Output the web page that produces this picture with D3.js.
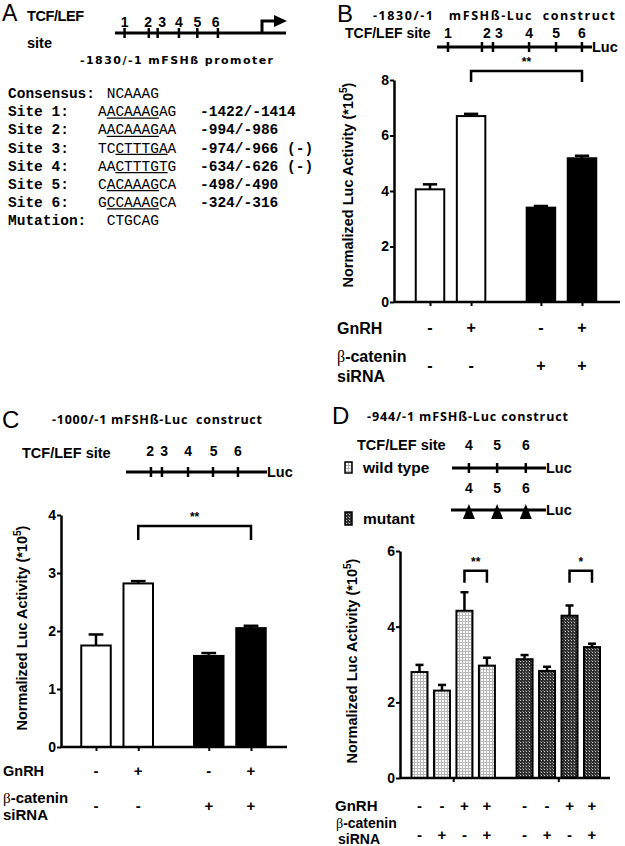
<!DOCTYPE html>
<html>
<head>
<meta charset="utf-8">
<title>mFSHb Luc constructs</title>
<script src="https://cdn.jsdelivr.net/npm/d3@7"></script>
<style>
  body { margin: 0; background: #fff; }
</style>
</head>
<body>
<script>

// ---- panel A : TCF/LEF sites in the promoter ----
var seqLabels = ["Consensus:", "Site 1:", "Site 2:", "Site 3:", "Site 4:", "Site 5:", "Site 6:", "Mutation:"];
var seqs = [" NCAAAG", "AACAAAGAG", "AACAAAGAA", "TCCTTTGAA", "AACTTTGTG", "CACAAAGCA", "GCCAAAGCA", " CTGCAG"];
var seqUnderline = [null, [1, 7], [1, 7], [2, 8], [2, 8], [1, 7], [1, 7], null];
var seqCoords = ["", "-1422/-1414", "-994/-986", "-974/-966 (-)", "-634/-626 (-)", "-498/-490", "-324/-316", ""];

// schematic site maps (fraction along the drawn promoter line), tick and number
var sitesA = ["1", "2", "3", "4", "5", "6"];
var mapA = [0.065, 0.23, 0.29, 0.435, 0.56, 0.70];
var numMapA = [0.065, 0.225, 0.32, 0.435, 0.56, 0.685];
var sitesB = ["1", "2", "3", "4", "5", "6"];
var mapB = [0.071, 0.29, 0.361, 0.594, 0.768, 0.935];
var numMapB = [0.071, 0.322, 0.40, 0.594, 0.768, 0.935];
var sitesC = ["2", "3", "4", "5", "6"];
var mapC = [0.177, 0.255, 0.44, 0.617, 0.794];
var numMapC = [0.172, 0.27, 0.44, 0.622, 0.794];
var sitesD = ["4", "5", "6"];
var mapD = [0.18, 0.48, 0.785];

// ---- panel B : -1830/-1 construct ----
var gnrhB = ["-", "+", "-", "+"];
var sirnaB = ["-", "-", "+", "+"];
var fillB = ["white", "white", "black", "black"];
var meanB = [4.06, 6.70, 3.40, 5.18];
var semB = [0.18, 0.08, 0.06, 0.09];
var sigB = [[1, 3, "**"]];

// ---- panel C : -1000/-1 construct ----
var gnrhC = ["-", "+", "-", "+"];
var sirnaC = ["-", "-", "+", "+"];
var fillC = ["white", "white", "black", "black"];
var meanC = [1.75, 2.82, 1.57, 2.05];
var semC = [0.19, 0.04, 0.05, 0.04];
var sigC = [[1, 3, "**"]];

// ---- panel D : -944/-1 construct, wild type vs mutant ----
var gnrhD = ["-", "-", "+", "+", "-", "-", "+", "+"];
var sirnaD = ["-", "+", "-", "+", "-", "+", "-", "+"];
var fillD = ["wt", "wt", "wt", "wt", "mut", "mut", "mut", "mut"];
var meanD = [2.80, 2.31, 4.42, 2.97, 3.14, 2.83, 4.29, 3.46];
var semD = [0.19, 0.15, 0.49, 0.21, 0.11, 0.11, 0.27, 0.09];
var sigD = [[2, 3, "**"], [6, 7, "*"]];

var W = 625, H = 846;
var svg = d3.select("body").append("svg").attr("width", W).attr("height", H)
    .attr("font-family", "'Liberation Sans', Arial, sans-serif");
svg.append("rect").attr("width", W).attr("height", H).attr("fill", "#fff");

// fill patterns for panel D
var defs = svg.append("defs");
var wt = defs.append("pattern").attr("id", "wt").attr("width", 3).attr("height", 3)
    .attr("patternUnits", "userSpaceOnUse");
wt.append("rect").attr("width", 3).attr("height", 3).attr("fill", "#fff");
wt.append("rect").attr("width", 3).attr("height", 1).attr("fill", "#b8b8b8");
wt.append("rect").attr("width", 1).attr("height", 3).attr("fill", "#b8b8b8");
var mt = defs.append("pattern").attr("id", "mut").attr("width", 3).attr("height", 3)
    .attr("patternUnits", "userSpaceOnUse");
mt.append("rect").attr("width", 3).attr("height", 3).attr("fill", "#2e2e2e");
mt.append("rect").attr("x", 1).attr("y", 1).attr("width", 1).attr("height", 1).attr("fill", "#d0d0d0");
mt.append("rect").attr("x", 0).attr("y", 0).attr("width", 1).attr("height", 1).attr("fill", "#777");

function fillOf(f) {
    if (f == "wt" || f == "mut") return "url(#" + f + ")";
    return f;
}

function label(x, y, txt, size, opts) {
    opts = opts || {};
    return svg.append("text")
        .attr("x", x).attr("y", y)
        .attr("dy", "0.35em")
        .attr("font-size", size)
        .attr("font-weight", opts.weight || "bold")
        .attr("font-family", opts.family || null)
        .attr("text-anchor", opts.anchor || "start")
        .style("white-space", "pre")
        .text(txt);
}

// site map: line with ticks and numbers
function siteMap(x0, x1, ly, nums, map, numMap, numY, opts) {
    var s = d3.scaleLinear().domain([0, 1]).range([x0, x1]);
    svg.append("line").attr("x1", x0).attr("x2", x1).attr("y1", ly).attr("y2", ly)
        .attr("stroke", "#000").attr("stroke-width", 3);
    svg.selectAll(null).data(map).enter().append("line")
        .attr("x1", function (d) { return s(d); })
        .attr("x2", function (d) { return s(d); })
        .attr("y1", ly - 5).attr("y2", ly + 5)
        .attr("stroke", "#000").attr("stroke-width", 2.5);
    if (numY != null) {
        svg.selectAll(null).data(nums).enter().append("text")
            .attr("x", function (d, i) { return s(numMap[i]); })
            .attr("y", numY).attr("dy", "0.35em")
            .attr("text-anchor", "middle")
            .attr("font-size", 14).attr("font-weight", "bold")
            .text(function (d) { return d; });
    }
    if (opts && opts.luc) label(x1, ly, "Luc", 14.5);
    return s;
}

// ===== Panel A =====
label(2, 13, "A", 23, { weight: "normal" });
label(27, 16, "TCF/LEF", 14.5).attr("letter-spacing", -0.4);
label(27, 43, "site", 14.5);
var sA = siteMap(115, 262, 33, sitesA, mapA, numMapA, 22);
// promoter arrow
svg.append("path")
    .attr("d", "M" + sA(1) + ",33V21H" + (sA(1) + 14))
    .attr("fill", "none").attr("stroke", "#000").attr("stroke-width", 3);
svg.append("path")
    .attr("d", "M" + (sA(1) + 12) + ",15L" + (sA(1) + 25) + ",21L" + (sA(1) + 12) + ",27Z")
    .attr("fill", "#000");
svg.append("line").attr("x1", sA(1)).attr("x2", 286).attr("y1", 33).attr("y2", 33)
    .attr("stroke", "#000").attr("stroke-width", 3);
label(80, 60, "-1830/-1 mFSHß promoter", 11, { family: "'DejaVu Sans', sans-serif" })
    .attr("textLength", 193).attr("lengthAdjust", "spacing");

var mono = "'Liberation Mono', 'Courier New', monospace";
var monoSize = 14.5, charW = monoSize * 0.6;
var rowY = d3.scalePoint().domain(seqLabels).range([93, 220]);
seqLabels.forEach(function (lab, i) {
    var yy = rowY(lab);
    label(8, yy, lab, monoSize, { family: mono });
    label(98, yy, seqs[i], monoSize, { family: mono, weight: "normal" });
    if (seqCoords[i]) label(200, yy, seqCoords[i], monoSize, { family: mono });
    if (seqUnderline[i]) {
        svg.append("line")
            .attr("x1", 98 + seqUnderline[i][0] * charW)
            .attr("x2", 98 + seqUnderline[i][1] * charW)
            .attr("y1", yy + 7).attr("y2", yy + 7)
            .attr("stroke", "#000").attr("stroke-width", 1.2);
    }
});

// ===== generic bar chart =====
function barChart(c) {
    var y = d3.scaleLinear().domain([0, c.ymax]).range([c.yBottom, c.yTop]);
    var slots = c.means.map(function (d, i) { return i + Math.floor(i / c.perGroup) * c.gap; });
    var x = d3.scaleLinear().domain([0, slots[slots.length - 1]]).range([c.xFirst, c.xLast]);
    var bw = c.barWidth;
    var g = svg.append("g");

    // bars
    g.selectAll("rect.bar").data(c.means).enter().append("rect")
        .attr("class", "bar")
        .attr("x", function (d, i) { return x(slots[i]) - bw / 2; })
        .attr("y", function (d) { return y(d); })
        .attr("width", bw)
        .attr("height", function (d) { return y(0) - y(d); })
        .attr("fill", function (d, i) { return fillOf(c.fills[i]); })
        .attr("stroke", "#000").attr("stroke-width", 2);

    // error bars (upper only)
    g.selectAll("line.err").data(c.means).enter().append("line")
        .attr("class", "err")
        .attr("x1", function (d, i) { return x(slots[i]); })
        .attr("x2", function (d, i) { return x(slots[i]); })
        .attr("y1", function (d) { return y(d); })
        .attr("y2", function (d, i) { return y(d + c.sems[i]); })
        .attr("stroke", "#000").attr("stroke-width", 2.5);
    g.selectAll("line.cap").data(c.means).enter().append("line")
        .attr("class", "cap")
        .attr("x1", function (d, i) { return x(slots[i]) - bw * 0.25; })
        .attr("x2", function (d, i) { return x(slots[i]) + bw * 0.25; })
        .attr("y1", function (d, i) { return y(d + c.sems[i]); })
        .attr("y2", function (d, i) { return y(d + c.sems[i]); })
        .attr("stroke", "#000").attr("stroke-width", 2.5);

    // y axis
    var ya = g.append("g").attr("transform", "translate(" + c.axisX + ",0)")
        .call(d3.axisLeft(y).tickValues(c.yTicks).tickSize(4).tickSizeOuter(0).tickPadding(1)
            .tickFormat(d3.format("d")));
    ya.select(".domain").attr("stroke-width", 2.5);
    ya.selectAll(".tick line").attr("stroke-width", 2);
    ya.selectAll(".tick text").attr("font-size", 14).attr("font-weight", "bold")
        .attr("font-family", "'Liberation Sans', Arial, sans-serif");

    // x axis
    g.append("line").attr("x1", c.axisX).attr("x2", c.axisEnd)
        .attr("y1", y(0)).attr("y2", y(0))
        .attr("stroke", "#000").attr("stroke-width", 2.5);
    var xa = g.append("g").attr("transform", "translate(0," + y(0) + ")")
        .call(d3.axisBottom(x).tickValues(c.xTicks).tickSize(4).tickSizeOuter(0).tickFormat(""));
    xa.select(".domain").remove();
    xa.selectAll(".tick line").attr("stroke-width", 2);

    // y label
    var yl = g.append("text")
        .attr("transform", "translate(" + c.labelX + "," + c.labelY + ") rotate(-90)")
        .attr("text-anchor", "middle")
        .attr("font-size", c.labelSize).attr("font-weight", "bold");
    yl.append("tspan").text("Normalized Luc Activity (*10");
    yl.append("tspan").attr("dy", -6).attr("font-size", c.labelSize * 0.7).text("5");
    yl.append("tspan").attr("dy", 6).text(")");

    // significance brackets
    c.sig.forEach(function (s) {
        var xl = x(slots[s[0]]), xr = x(slots[s[1]]);
        var yt = y(c.sigTop), yb = y(c.sigLeg);
        g.append("path")
            .attr("d", "M" + xl + "," + yb + "V" + yt + "H" + xr + "V" + yb)
            .attr("fill", "none").attr("stroke", "#000").attr("stroke-width", 2.5);
        g.append("text").attr("x", (xl + xr) / 2).attr("y", yt - 9).attr("dy", "0.35em")
            .attr("text-anchor", "middle").attr("font-size", 12).attr("font-weight", "bold")
            .text(s[2]);
    });

    // treatment rows
    c.rows.forEach(function (r) {
        g.selectAll(null).data(r.signs).enter().append("text")
            .attr("x", function (d, i) { return x(slots[i]); })
            .attr("y", r.y).attr("dy", "0.35em")
            .attr("text-anchor", "middle")
            .attr("font-size", c.rowSize).attr("font-weight", "bold")
            .text(function (d) { return d; });
    });
    return x;
}

var titleFont = "'Open Sans', 'Liberation Sans', sans-serif";

// ===== Panel B =====
label(337, 14, "B", 24, { weight: "normal" });
label(373, 16, "-1830/-1   mFSHß-Luc  construct", 12.5, { family: titleFont })
    .attr("textLength", 242).attr("lengthAdjust", "spacing");
label(345, 33, "TCF/LEF site", 14);
siteMap(437, 592, 47, sitesB, mapB, numMapB, 33, { luc: true });
barChart({
    means: meanB, sems: semB, fills: fillB, perGroup: 2, gap: 0.7,
    ymax: 8, yTicks: [0, 2, 4, 6, 8], yBottom: 302, yTop: 80,
    xFirst: 430, xLast: 582, xTicks: [0, 1, 2.7, 3.7], barWidth: 28.5,
    axisX: 394, axisEnd: 620,
    labelX: 353, labelY: 185, labelSize: 14.5,
    sig: sigB, sigTop: 8.32, sigLeg: 7.93,
    rowSize: 16,
    rows: [{ signs: gnrhB, y: 327 }, { signs: sirnaB, y: 365 }]
});
label(337, 328, "GnRH", 16);
var bB = label(337, 356, "", 16);
bB.append("tspan").attr("font-family", "'Liberation Serif', serif").attr("font-weight", "normal").text("β");
bB.append("tspan").text("-catenin");
label(337, 376, "siRNA", 16);

// ===== Panel C =====
label(2, 420, "C", 24, { weight: "normal" });
label(52, 420, "-1000/-1 mFSHß-Luc  construct", 12.5, { family: titleFont })
    .attr("textLength", 210).attr("lengthAdjust", "spacing");
label(22, 453, "TCF/LEF site", 14.5);
siteMap(126, 267, 472, sitesC, mapC, numMapC, 451, { luc: true });
barChart({
    means: meanC, sems: semC, fills: fillC, perGroup: 2, gap: 0.67,
    ymax: 4, yTicks: [0, 1, 2, 3, 4], yBottom: 747, yTop: 515,
    xFirst: 96, xLast: 251, xTicks: [0, 1, 2.67, 3.67], barWidth: 29.5,
    axisX: 61, axisEnd: 287,
    labelX: 27, labelY: 628, labelSize: 14.5,
    sig: sigC, sigTop: 3.81, sigLeg: 3.57,
    rowSize: 15,
    rows: [{ signs: gnrhC, y: 771 }, { signs: sirnaC, y: 806 }]
});
label(3, 771, "GnRH", 14.5);
var bC = label(3, 798, "", 15);
bC.append("tspan").attr("font-family", "'Liberation Serif', serif").attr("font-weight", "normal").text("β");
bC.append("tspan").text("-catenin");
label(3, 815, "siRNA", 15);

// ===== Panel D =====
label(332, 416, "D", 24, { weight: "normal" });
label(367, 417, "-944/-1 mFSHß-Luc construct", 12.5, { family: titleFont })
    .attr("textLength", 201).attr("lengthAdjust", "spacing");
label(357, 445, "TCF/LEF site", 14.5);
var sD = d3.scaleLinear().domain([0, 1]).range([452, 546]);
svg.selectAll(null).data(sitesD).enter().append("text")
    .attr("x", function (d, i) { return sD(mapD[i]); })
    .attr("y", 445).attr("dy", "0.35em").attr("text-anchor", "middle")
    .attr("font-size", 14).attr("font-weight", "bold").text(function (d) { return d; });
siteMap(452, 546, 468, sitesD, mapD, mapD, 488, { luc: true });
// mutant map: line with triangles
svg.append("line").attr("x1", 451).attr("x2", 546).attr("y1", 510).attr("y2", 510)
    .attr("stroke", "#000").attr("stroke-width", 3);
svg.selectAll(null).data(mapD).enter().append("path")
    .attr("d", function (d) {
        var cx = sD(d);
        return "M" + (cx - 6) + ",519L" + cx + ",504L" + (cx + 6) + ",519Z";
    })
    .attr("fill", "#000");
label(546, 510, "Luc", 14.5);
// legend
svg.append("rect").attr("x", 345).attr("y", 462).attr("width", 7).attr("height", 11)
    .attr("fill", "url(#wt)").attr("stroke", "#000").attr("stroke-width", 1.5);
label(363, 468, "wild type", 15.5);
svg.append("rect").attr("x", 345).attr("y", 512).attr("width", 7).attr("height", 13)
    .attr("fill", "url(#mut)").attr("stroke", "#000").attr("stroke-width", 1.5);
label(363, 519, "mutant", 15.5);

barChart({
    means: meanD, sems: semD, fills: fillD, perGroup: 4, gap: 0.675,
    ymax: 6, yTicks: [0, 2, 4, 6], yBottom: 778, yTop: 551,
    xFirst: 419.5, xLast: 592, xTicks: [1.5, 6.175], barWidth: 16,
    axisX: 400, axisEnd: 610,
    labelX: 357, labelY: 661, labelSize: 14.5,
    sig: sigD, sigTop: 5.48, sigLeg: 5.16,
    rowSize: 15,
    rows: [{ signs: gnrhD, y: 806 }, { signs: sirnaD, y: 835 }]
});
label(335, 806, "GnRH", 15);
var bD = label(336, 823, "", 14);
bD.append("tspan").attr("font-family", "'Liberation Serif', serif").attr("font-weight", "normal").text("β");
bD.append("tspan").text("-catenin");
label(338, 839, "siRNA", 14);

</script>
</body>
</html>
